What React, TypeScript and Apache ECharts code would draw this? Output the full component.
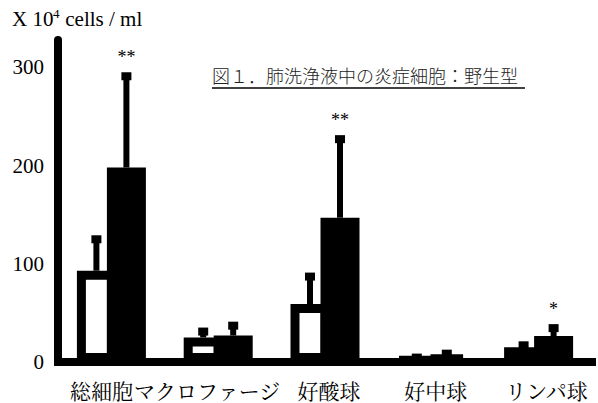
import React, { useEffect, useRef } from "react";
import * as echarts from "echarts";

const categories = ["総細胞", "マクロファージ", "好酸球", "好中球", "リンパ球"];
const wildMean = [93, 25, 59, 3.5, 15];
const wildSD = [32, 6, 28, 1, 2];
const treatedMean = [198, 27, 147, 6.5, 26.5];
const treatedSD = [93, 10, 80, 2, 8];
const significance = ["**", "", "**", "", "*"];
const yTicks = [0, 100, 200, 300];
const yMax = 328;
const titleText = "図１．肺洗浄液中の炎症細胞：野生型";

const labelShift = [-10, -11, 4, 4, 8];

const SERIF = "'Liberation Serif', 'Times New Roman', serif";
const CJK = "'Noto Serif CJK JP', 'Noto Sans CJK JP', sans-serif";
const BAR_W = 39;
const BORDER = 9;
const ERR_OFFSET = 15;

function errorRenderer(offset: number, marks: string[] | null) {
  return (params: any, api: any) => {
    const i = api.value(0);
    const m = api.value(1);
    const s = api.value(2);
    const base = api.coord([i, m]);
    const top = api.coord([i, m + s]);
    const x = base[0] + offset;
    const children: any[] = [
      {
        type: "rect",
        shape: { x: x - 3, y: top[1], width: 6, height: Math.max(0, base[1] - top[1]) },
        style: { fill: "#000" },
      },
      {
        type: "rect",
        shape: { x: x - 5, y: top[1] - 4, width: 10, height: 8 },
        style: { fill: "#000" },
      },
    ];
    const mark = marks ? marks[params.dataIndex] : "";
    if (mark) {
      children.push({
        type: "text",
        style: {
          x,
          y: top[1] - 19,
          text: mark,
          fill: "#000",
          font: `18px ${SERIF}`,
          align: "center",
          verticalAlign: "middle",
        },
      });
    }
    return { type: "group", children };
  };
}

export default function App() {
  const ref = useRef<HTMLDivElement>(null);
  useEffect(() => {
    if (!ref.current) return;
    const chart = echarts.init(ref.current, null, { renderer: "svg" });
    const option: any = {
      animation: false,
      backgroundColor: "#fff",
      grid: { left: 58, right: 6, top: 40, bottom: 41 },
      xAxis: {
        type: "category",
        data: categories.map((c, i) => ({
          value: c,
          textStyle: {
            padding: labelShift[i] < 0 ? [0, -2 * labelShift[i], 0, 0] : [0, 0, 0, 2 * labelShift[i]],
          },
        })),
        offset: 2,
        axisLine: { lineStyle: { color: "#000", width: 8, cap: "square" } },
        axisTick: { show: false },
        axisLabel: { interval: 0, color: "#000", fontSize: 21, fontFamily: CJK, margin: 15 },
        splitLine: { show: false },
      },
      yAxis: {
        type: "value",
        min: 0,
        max: yMax,
        interval: 100,
        axisLine: { show: true, lineStyle: { color: "#000", width: 8 } },
        axisTick: { show: false },
        splitLine: { show: false },
        axisLabel: {
          color: "#000",
          fontSize: 21,
          fontFamily: SERIF,
          margin: 14,
          formatter: (v: number) => (yTicks.indexOf(v) >= 0 ? String(v) : ""),
        },
      },
      series: [
        {
          type: "bar",
          data: wildMean,
          barWidth: BAR_W,
          barGap: `${(-BORDER / BAR_W) * 100}%`,
          itemStyle: { color: "#fff", borderColor: "#000", borderWidth: BORDER },
        },
        {
          type: "bar",
          data: treatedMean,
          barWidth: BAR_W,
          barGap: `${(-BORDER / BAR_W) * 100}%`,
          itemStyle: { color: "#000", borderColor: "#000", borderWidth: BORDER },
        },
        {
          type: "custom",
          data: wildMean.map((m, i) => [i, m, wildSD[i]]),
          encode: { x: 0, y: 1 },
          renderItem: errorRenderer(-ERR_OFFSET, null),
          z: 5,
        },
        {
          type: "custom",
          data: treatedMean.map((m, i) => [i, m, treatedSD[i]]),
          encode: { x: 0, y: 1 },
          renderItem: errorRenderer(ERR_OFFSET, significance),
          z: 5,
        },
      ],
      graphic: [
        {
          type: "text",
          left: 12,
          top: 8,
          style: { text: "X 10", fill: "#000", font: `21px ${SERIF}` },
        },
        {
          type: "text",
          left: 53,
          top: 7,
          style: { text: "4", fill: "#000", font: `13px ${SERIF}` },
        },
        {
          type: "text",
          left: 60,
          top: 8,
          style: { text: " cells / ml", fill: "#000", font: `21px ${SERIF}` },
        },
        {
          type: "text",
          left: 212,
          top: 66,
          style: { text: titleText, fill: "#222", font: `300 18px 'Noto Sans CJK JP', sans-serif` },
        },
        {
          type: "line",
          shape: { x1: 212, y1: 88, x2: 525, y2: 88 },
          style: { stroke: "#000", lineWidth: 1.5 },
        },
      ],
    };
    chart.setOption(option);
    return () => chart.dispose();
  }, []);
  return (
    <div
      ref={ref}
      style={{ position: "fixed", left: 0, top: 0, width: 598, height: 403, background: "#fff" }}
    />
  );
}
